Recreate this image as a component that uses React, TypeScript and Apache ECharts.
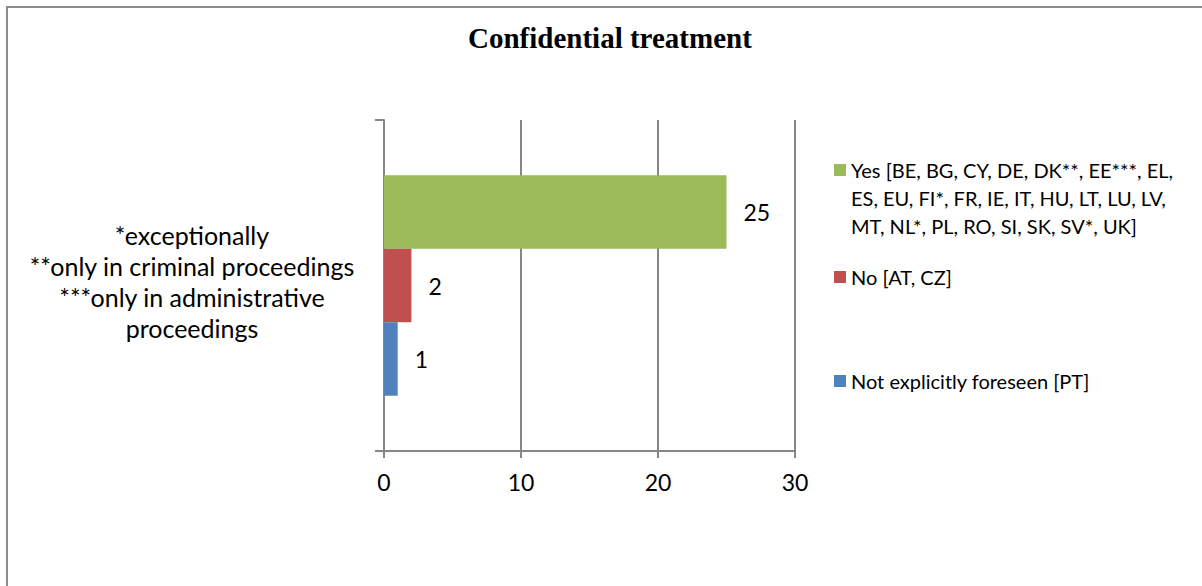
import React, { useEffect, useRef } from "react";
import * as echarts from "echarts";

// Category (wrapped footnote label shown on the left of the bars)
const categories = [
  "*exceptionally\n**only in criminal proceedings\n***only in administrative\nproceedings",
];

// Series names (as shown in the legend)
const seriesNames = [
  "Yes [BE, BG, CY, DE, DK**, EE***, EL,\nES, EU, FI*, FR, IE, IT, HU, LT, LU, LV,\nMT, NL*, PL, RO, SI, SK, SV*, UK]",
  "No [AT, CZ]",
  "Not explicitly foreseen [PT]",
];

// Series values
const yesValues = [25];
const noValues = [2];
const notForeseenValues = [1];

// Value axis range
const axisMin = 0;
const axisMax = 30;
const axisStep = 10;

const colors = ["#9BBB59", "#C0504D", "#4F81BD"];
const axisGray = "#868686";
const bodyFont = "Lato";

export default function App() {
  const ref = useRef<HTMLDivElement>(null);

  useEffect(() => {
    if (!ref.current) return;
    const chart = echarts.init(ref.current, undefined, { renderer: "svg" });

    const values = [yesValues, noValues, notForeseenValues];
    const legendTops = [100, 263, 367];

    // Multi-line legend entries get leading blank lines so that the
    // swatch lines up with the first line of text.
    const legendFormatter = (name: string) => {
      const extra = name.split("\n").length - 1;
      return "\n".repeat(extra) + name;
    };

    // Category label: each line as a rich token, plus a short trailing
    // spacer line that lifts the block slightly above the band centre.
    const categoryFormatter = (value: string) =>
      value
        .split("\n")
        .map((line) => `{t|${line}}`)
        .join("\n") + "\n{gap| }";

    chart.setOption({
      animation: false,
      backgroundColor: "#ffffff",
      title: {
        text: "Confidential treatment",
        left: 468,
        top: 22,
        padding: 0,
        textStyle: {
          fontFamily: "Liberation Serif",
          fontWeight: "bold",
          fontSize: 29,
          lineHeight: 32,
          color: "#000000",
        },
      },
      legend: seriesNames.map((name, i) => ({
        data: [name],
        left: 834,
        top: legendTops[i],
        orient: "vertical",
        icon: "rect",
        itemWidth: 12,
        itemHeight: 12,
        itemGap: 0,
        padding: 0,
        selectedMode: false,
        formatter: legendFormatter,
        textStyle: {
          fontFamily: bodyFont,
          fontSize: 20,
          lineHeight: 28,
          color: "#000000",
        },
      })),
      grid: {
        left: 384,
        top: 120,
        width: 411,
        height: 331,
        containLabel: false,
      },
      xAxis: {
        type: "value",
        min: axisMin,
        max: axisMax,
        interval: axisStep,
        axisLine: { show: true, lineStyle: { color: axisGray, width: 2 } },
        axisTick: { show: true, length: 7, lineStyle: { color: axisGray, width: 2 } },
        splitLine: { show: true, lineStyle: { color: axisGray, width: 2 } },
        axisLabel: {
          margin: 19,
          fontFamily: bodyFont,
          fontSize: 23,
          lineHeight: 24,
          color: "#000000",
        },
      },
      yAxis: {
        type: "category",
        data: categories,
        axisLine: { show: true, lineStyle: { color: axisGray, width: 2 } },
        axisTick: { show: true, length: 9, lineStyle: { color: axisGray, width: 2 } },
        axisLabel: {
          margin: 192,
          align: "center",
          formatter: categoryFormatter,
          color: "#000000",
          rich: {
            t: {
              fontFamily: bodyFont,
              fontSize: 25,
              lineHeight: 30.7,
              color: "#000000",
              align: "center",
            },
            gap: {
              fontFamily: bodyFont,
              fontSize: 4,
              lineHeight: 8,
              align: "center",
            },
          },
        },
      },
      series: seriesNames.map((name, i) => ({
        name,
        type: "bar",
        data: values[i],
        barGap: "0%",
        barCategoryGap: "33.4%",
        itemStyle: { color: colors[i] },
        label: {
          show: true,
          position: "right",
          distance: 17,
          fontFamily: bodyFont,
          fontSize: 23,
          color: "#000000",
        },
      })),
      graphic: [
        {
          type: "rect",
          silent: true,
          shape: { x: 7, y: 7, width: 1400, height: 800 },
          style: { fill: "none", stroke: "#8c8c8c", lineWidth: 2 },
        },
      ],
    });

    return () => chart.dispose();
  }, []);

  return (
    <div
      ref={ref}
      style={{ position: "absolute", left: 0, top: 0, width: 1202, height: 586 }}
    />
  );
}
